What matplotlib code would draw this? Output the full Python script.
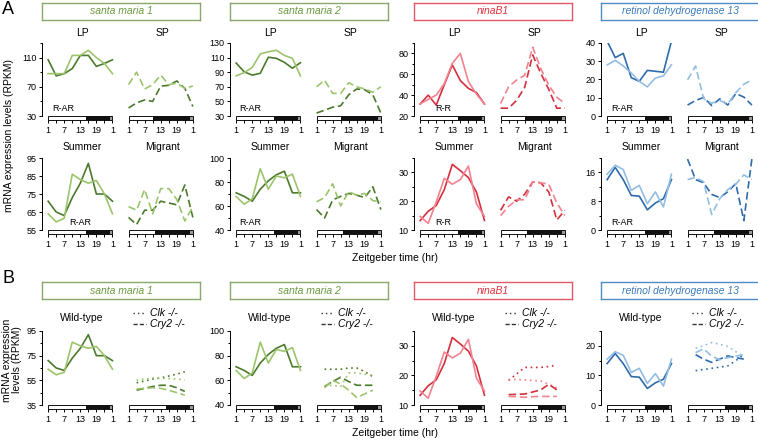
import matplotlib.pyplot as plt
from matplotlib.patches import Rectangle
from matplotlib.lines import Line2D

plt.rcParams['font.family'] = ['Liberation Sans', 'DejaVu Sans']

W, H = 758, 440

# sampling times (ZT), last point repeats the first
zt = [1, 4, 7, 10, 13, 16, 19, 22, 25]
zt_mut = [4, 7, 10, 13, 16, 19, 22]
xticks = [1, 7, 13, 19, 25]
xticklabels = ['1', '7', '13', '19', '1']

genes = ['santa maria 1', 'santa maria 2', 'ninaB1', 'retinol dehydrogenase 13']
receptor = ['R-AR', 'R-AR', 'R-R', 'R-AR']

# santa maria 1  (dark, light)
sm1_lp = [[107, 85, 88, 95, 113, 113, 98, 102, 107], [88, 88, 88, 113, 113, 120, 110, 102, 88]]
sm1_sp = [[41, 48, 52, 50, 71, 72, 78, 68, 43], [73, 90, 67, 73, 86, 73, 75, 68, 71]]
sm1_summer = [[71, 65, 63, 73, 81, 92, 75, 75, 71], [64, 59.5, 61.5, 86, 83, 81, 82.5, 75, 64]]
sm1_migrant = [[62, 58, 66, 66, 71, 70, 69, 80, 62], [68, 66, 77.5, 64, 78, 78, 72, 60, 68]]
sm1_clk = [[53, 54.5, 56, 57, 58.5, 60, 62], [55, 56, 57, 56.5, 56.5, 56, 55.5]]
sm1_cry2 = [[47, 48.5, 50, 51, 51, 49, 46], [48, 48.5, 49, 48.5, 47, 45, 43]]

# santa maria 2
sm2_lp = [[102.5, 90.5, 86, 88.5, 110.5, 109, 103.5, 95.5, 103], [85, 89.5, 96.5, 115, 118, 120, 113, 109, 85]]
sm2_sp = [[34, 38, 42, 44, 59, 67, 66, 59, 34], [70, 79, 61, 61, 75.5, 70, 67, 62.5, 70]]
sm2_summer = [[71, 68, 64, 74, 81, 86, 89, 71, 71], [68, 61.5, 66, 91, 74, 85, 83.5, 86.5, 68]]
sm2_migrant = [[57, 50, 65, 68, 70.5, 69, 67, 76, 57], [63.5, 67, 78.5, 60, 72, 69, 70.5, 64.5, 63.5]]
sm2_clk = [[69, 69, 69, 70, 70, 67, 63], [55, 56, 55, 66, 66, 65, 64]]
sm2_cry2 = [[55, 59, 62.5, 59, 56, 56, 56], [54, 60, 57, 52, 46, 49, 52]]

# ninaB1
nb_lp = [[31.5, 40, 30.5, 50, 69, 54, 46.5, 42.5, 31.5], [31.5, 36, 40, 51, 70.5, 80, 53, 41, 31.5]]
nb_sp = [[27.5, 27.5, 35, 47.5, 78.5, 61, 45.5, 27.5, 27.5], [32, 48, 54.5, 59, 86, 65.5, 49.5, 38, 32]]
nb_summer = [[13.3, 16.5, 18.5, 24, 32.8, 30.6, 28.2, 23.2, 13.3], [14.7, 12.3, 19.7, 27.9, 25.9, 27.5, 32.2, 19.1, 14.7]]
nb_migrant = [[16.8, 21.5, 20, 22.4, 26.7, 26.4, 23.2, 13.5, 16.8], [15, 18.2, 20.5, 20.5, 26.7, 26.4, 25.9, 19.4, 15]]
nb_clk = [[18.3, 20.5, 22.7, 22.7, 22.7, 23, 23.5], [18.6, 18.6, 18.5, 18.3, 18.1, 17, 15.8]]
nb_cry2 = [[13.5, 13.6, 13.7, 14.4, 15.1, 17, 15.1], [12.9, 12.8, 12.6, 12.8, 12.9, 12.9, 12.9]]

# retinol dehydrogenase 13
rd_lp = [[41, 32, 34.3, 21, 19, 25, 24.5, 24, 41], [28, 30.5, 27.4, 23.6, 19, 16, 20.8, 22, 28]]
rd_sp = [[6, 8.5, 10.2, 5.7, 9.4, 6, 12.3, 10.4, 6], [19.8, 27.4, 9.4, 7, 8.5, 6.6, 12.8, 17.4, 19.8]]
rd_summer = [[14, 17.4, 14, 9.6, 9.4, 5.6, 7.5, 8.7, 14], [15.5, 18, 16.8, 11, 12.4, 7.3, 10.6, 6.4, 15.5]]
rd_migrant = [[19.7, 14, 13.1, 9.9, 9, 10.6, 12.9, 2.6, 19.7], [14, 14.6, 13.4, 4.3, 8.7, 11.2, 12.7, 15.3, 14]]
rd_clk = [[11.6, 12, 12.4, 12.8, 13.2, 15, 17], [19.2, 20, 21.1, 20.5, 19.8, 18, 16.4]]
rd_cry2 = [[17, 15.5, 14.4, 15.5, 16.6, 16, 15.5], [17.7, 19, 16.5, 15.3, 16, 16.5, 17]]

# y axes per gene: (lo, hi, major, minor)
yA1 = [(30, 130, [30, 70, 110], [50, 90, 130]),
       (30, 130, [30, 50, 70, 90, 110, 130], []),
       (20, 90, [20, 40, 60, 80], [30, 50, 70, 90]),
       (0, 40, [0, 10, 20, 30, 40], [])]
yA2 = [(55, 95, [55, 65, 75, 85, 95], []),
       (40, 100, [40, 60, 80, 100], [50, 70, 90]),
       (10, 35, [10, 20, 30], [15, 25, 35]),
       (0, 20, [0, 8, 16], [4, 12, 20])]
yB = [(35, 95, [35, 55, 75, 95], [45, 65, 85]),
      (40, 100, [40, 60, 80, 100], [50, 70, 90]),
      (10, 35, [10, 20, 30], [15, 25, 35]),
      (0, 25, [0, 10, 20], [5, 15, 25])]

dark = ['#4b7a2c', '#4b7a2c', '#d42f3d', '#2f6bab']
light = ['#9cc46c', '#9cc46c', '#f1828f', '#93bde2']
boxedge = ['#8aa86c', '#8aa86c', '#e35766', '#4f8cc4']
boxtext = ['#6b9a3e', '#6b9a3e', '#e0323f', '#3b7bbb']

gx = [42, 230, 414, 601]
XL = (-1.3, 25.5)
AXW = 71.8
SPOFF = 80.4

fig = plt.figure(figsize=(W / 100, H / 100), dpi=100)


def px_axes(x, y, w, h):
    return fig.add_axes([x / W, 1 - (y + h) / H, w / W, h / H])


def panel(x, top, bot, light_end, ycfg, left):
    ax = px_axes(x, top, AXW, bot - top)
    ax.set_facecolor('none')
    lo, hi, major, minor = ycfg
    ax.set_xlim(XL)
    ax.set_ylim(lo, hi)
    for s in ['top', 'right', 'bottom']:
        ax.spines[s].set_visible(False)
    # light / dark bar under the plot
    bh = 4.0 / (bot - top)
    tr = ax.get_xaxis_transform()
    ax.add_patch(Rectangle((1, -bh), light_end - 1, bh, fc='white', ec='none', transform=tr, clip_on=False))
    ax.add_patch(Rectangle((light_end, -bh), 24 - light_end, bh, fc='#111111', ec='none', transform=tr, clip_on=False))
    ax.add_patch(Rectangle((24, -bh), 1, bh, fc='#9a9a9a', ec='none', transform=tr, clip_on=False))
    ax.add_patch(Rectangle((1, -bh), 24, bh, fc='none', ec='#111111', lw=0.7, transform=tr, clip_on=False))
    ax.spines['bottom'].set_position(('outward', 4 * 0.72))
    ax.set_xticks(xticks)
    ax.set_xticklabels(xticklabels)
    ax.set_xticks([4, 10, 16, 22], minor=True)
    ax.tick_params(axis='x', which='major', length=2.5, width=0.7, labelsize=6.5, pad=1.5)
    ax.tick_params(axis='x', which='minor', length=1.8, width=0.7)
    if left:
        ax.spines['left'].set_linewidth(0.7)
        ax.set_yticks(major)
        ax.set_yticks(minor, minor=True)
        ax.tick_params(axis='y', which='major', length=2.5, width=0.7, labelsize=6.5, pad=1.5)
        ax.tick_params(axis='y', which='minor', length=1.8, width=0.7)
    else:
        ax.spines['left'].set_visible(False)
        ax.set_yticks([])
    return ax


def gene_box(g, y0, y1):
    x0 = gx[g]
    ax = px_axes(x0, y0, 158, y1 - y0)
    ax.set_xticks([])
    ax.set_yticks([])
    for s in ax.spines.values():
        s.set_edgecolor(boxedge[g])
        s.set_linewidth(1.0)
    ax.text(0.5, 0.5, genes[g], ha='center', va='center', style='italic',
            fontsize=7.5, color=boxtext[g], transform=ax.transAxes)


def px_text(x, y, s, **kw):
    fig.text(x / W, 1 - y / H, s, **kw)


DASH = (0, (4.5, 2.2))
DOT = (0, (1, 2.2))
rowsA = [(43, 116, 'LP', 'SP', 15, 10, [sm1_lp, sm2_lp, nb_lp, rd_lp], [sm1_sp, sm2_sp, nb_sp, rd_sp], yA1, 33),
         (158, 230, 'Summer', 'Migrant', 15, 11, [sm1_summer, sm2_summer, nb_summer, rd_summer],
          [sm1_migrant, sm2_migrant, nb_migrant, rd_migrant], yA2, 147)]
lab_x = [[0.29, 0.28, 0.41, 0.29], [0.53, 0.28, 0.41, 0.29]]

for r, (top, bot, t1, t2, l1, l2, solid, dashed, ycfg, ty) in enumerate(rowsA):
    for g in range(4):
        ax = panel(gx[g], top, bot, l1, ycfg[g], True)
        ax.plot(zt, solid[g][0], color=dark[g], lw=1.2)
        ax.plot(zt, solid[g][1], color=light[g], lw=1.2)
        ax.text(lab_x[r][g], 0.1, receptor[g], transform=ax.transAxes, fontsize=6.5, ha='center', va='center')
        ax2 = panel(gx[g] + SPOFF, top, bot, l2, ycfg[g], False)
        ax2.plot(zt, dashed[g][0], color=dark[g], lw=1.2, linestyle=DASH)
        ax2.plot(zt, dashed[g][1], color=light[g], lw=1.2, linestyle=DASH)
        px_text(gx[g] + 40, ty, t1, ha='center', va='center', fontsize=7.5)
        px_text(gx[g] + SPOFF + 40, ty, t2, ha='center', va='center', fontsize=7.5)

wt = [sm1_summer, sm2_summer, nb_summer, rd_summer]
clk = [sm1_clk, sm2_clk, nb_clk, rd_clk]
cry2 = [sm1_cry2, sm2_cry2, nb_cry2, rd_cry2]
for g in range(4):
    ax = panel(gx[g], 331, 405, 15, yB[g], True)
    ax.plot(zt, wt[g][0], color=dark[g], lw=1.2)
    ax.plot(zt, wt[g][1], color=light[g], lw=1.2)
    ax2 = panel(gx[g] + SPOFF, 331, 405, 15, yB[g], False)
    ax2.plot(zt_mut, clk[g][0], color=dark[g], lw=1.2, linestyle=DOT)
    ax2.plot(zt_mut, clk[g][1], color=light[g], lw=1.2, linestyle=DOT)
    ax2.plot(zt_mut, cry2[g][0], color=dark[g], lw=1.2, linestyle=DASH)
    ax2.plot(zt_mut, cry2[g][1], color=light[g], lw=1.2, linestyle=DASH)
    px_text(gx[g] + 40, 318, 'Wild-type', ha='center', va='center', fontsize=7.5)
    for yy, ls, lab in [(313, DOT, 'Clk -/-'), (324, (0, (3, 1.5)), 'Cry2 -/-')]:
        fig.add_artist(Line2D([(gx[g] + 91) / W, (gx[g] + 104) / W], [1 - yy / H, 1 - yy / H],
                              color='#333333', lw=1.0, linestyle=ls))
        px_text(gx[g] + 108, yy, lab, ha='left', va='center', fontsize=7.5, style='italic')

for g in range(4):
    gene_box(g, 3, 20)
    gene_box(g, 282, 299)

px_text(8, 10, 'A', ha='center', va='center', fontsize=13)
px_text(8, 278, 'B', ha='center', va='center', fontsize=13)
px_text(9, 136, 'mRNA expression levels (RPKM)', ha='center', va='center', rotation=90, fontsize=7.5)
px_text(12, 360, 'mRNA expression\nlevels (RPKM)', ha='center', va='center', rotation=90, fontsize=7.5,
        linespacing=1.1)
px_text(395, 258, 'Zeitgeber time (hr)', ha='center', va='center', fontsize=7.5)
px_text(395, 433, 'Zeitgeber time (hr)', ha='center', va='center', fontsize=7.5)

fig.savefig('out.png', dpi=100)
